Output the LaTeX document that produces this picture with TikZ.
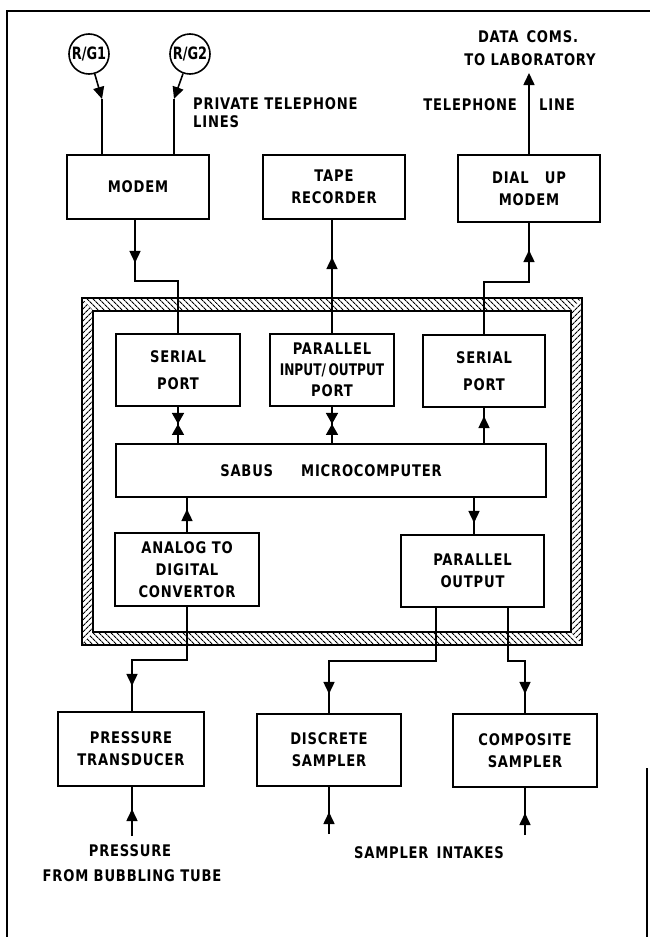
\documentclass[tikz,border=0pt]{standalone}
\usepackage{fontspec}
\setmainfont{DejaVu Sans}[FakeStretch=0.82,LetterSpace=5]
\newfontfamily\tightfont{DejaVu Sans}[FakeStretch=0.76]
\usetikzlibrary{arrows.meta,decorations.markings,patterns.meta}
\begin{document}
\begin{tikzpicture}[x=1pt,y=-1pt,
  blk/.style={draw,line width=1.9pt,align=center,inner sep=0pt,font=\fontsize{16}{22}\selectfont\bfseries},
  lbl/.style={inner sep=0pt,font=\fontsize{16}{20}\selectfont\bfseries},
  rg/.style={draw,circle,line width=1.6pt,minimum size=40pt,inner sep=0pt,font=\fontsize{17}{17}\selectfont\tightfont\bfseries},
  conn/.style={line width=1.6pt},
  tip/.style={-{Triangle[length=12pt,width=11pt]}},
  ah/.style={postaction={decorate},decoration={markings,mark=at position #1 with {\arrow{Triangle[length=12pt,width=11pt]}}}},
  hg/.style={postaction={decorate},decoration={markings,
     mark=at position #1 with {\arrow{Triangle[length=11pt,width=12pt]}},
     mark=at position #1 with {\arrowreversed{Triangle[length=11pt,width=12pt]}}}},
  hatchH/.style={pattern={Lines[angle=-45,distance=4pt,line width=1.1pt]}},
  hatchV/.style={pattern={Lines[angle=45,distance=4pt,line width=1.1pt]}}
]
\useasboundingbox (0,0) rectangle (650,937);
% outer frame
\draw[line width=1.5pt] (7,937) -- (7,11) -- (650,11);
\draw[line width=1.2pt] (647,768) -- (647,937);

% hatched frame
\fill[hatchH] (82,298) -- (582,298) -- (571,311) -- (93,311) -- cycle;
\fill[hatchH] (82,645) -- (582,645) -- (571,632) -- (93,632) -- cycle;
\fill[hatchV] (82,298) -- (93,311) -- (93,632) -- (82,645) -- cycle;
\fill[hatchV] (582,298) -- (571,311) -- (571,632) -- (582,645) -- cycle;
\draw[line width=1.8pt] (82,298) rectangle (582,645);
\draw[line width=1.8pt] (93,311) rectangle (571,632);

% nodes
\node[rg] (rg1) at (89,54) {R/G1};
\node[rg] (rg2) at (190,54) {R/G2};
\coordinate (k1) at (102,99);
\coordinate (k2) at (174,99);
\node[lbl,anchor=west] (ptl1) at (193,104) {PRIVATE TELEPHONE};
\node[lbl,anchor=west] (ptl2) at (193,122) {LINES};
\node[lbl] (dc1) at (528,37) {DATA\enspace COMS.};
\node[lbl] (dc2) at (530,60) {TO LABORATORY};
\coordinate (dct) at (529,73);
\node[lbl,anchor=east] (tel) at (517,105) {TELEPHONE};
\node[lbl,anchor=west] (tline) at (539,105) {LINE};

\node[blk,minimum width=142pt,minimum height=64pt] (modem) at (138,187) {MODEM};
\node[blk,minimum width=142pt,minimum height=64pt] (tape) at (334,187) {TAPE\\RECORDER};
\node[blk,minimum width=142pt,minimum height=67pt] (dial) at (529,188.5) {DIAL\quad UP\\MODEM};

\node[blk,minimum width=124pt,minimum height=72pt] (sp1) at (178,370) {SERIAL\\[5pt]PORT};
\node[blk,minimum width=124pt,minimum height=72pt,font=\fontsize{16}{21}\selectfont\bfseries] (pio) at (332,370) {PARALLEL\\{\tightfont\bfseries INPUT/\,OUTPUT}\\PORT};
\node[blk,minimum width=122pt,minimum height=72pt] (sp2) at (484,371) {SERIAL\\[5pt]PORT};
\node[blk,minimum width=430pt,minimum height=53pt] (sabus) at (331,470.5) {SABUS\hspace{28pt}MICROCOMPUTER};
\node[blk,minimum width=144pt,minimum height=73pt] (adc) at (187,569.5) {ANALOG TO\\DIGITAL\\CONVERTOR};
\node[blk,minimum width=143pt,minimum height=72pt] (pout) at (472.5,571) {PARALLEL\\OUTPUT};

\node[blk,minimum width=146pt,minimum height=74pt] (pt) at (131,749) {PRESSURE\\TRANSDUCER};
\node[blk,minimum width=144pt,minimum height=72pt] (ds) at (329,750) {DISCRETE\\SAMPLER};
\node[blk,minimum width=144pt,minimum height=73pt] (cs) at (525,750.5) {COMPOSITE\\SAMPLER};

\node[lbl] (pr1) at (130,851) {PRESSURE};
\node[lbl] (pr2) at (132,876) {FROM BUBBLING TUBE};
\node[lbl] (si) at (429,853) {SAMPLER\enspace INTAKES};
\coordinate (pin) at (132,836);
\coordinate (din) at (329,834);
\coordinate (cin) at (525,835);

% connectors
\draw[conn,tip] (rg1) -- (k1);
\draw[conn] (k1) -- (k1 |- modem.north);
\draw[conn,tip] (rg2) -- (k2);
\draw[conn] (k2) -- (k2 |- modem.north);
\draw[conn,tip] (dial.north) -- (dct);

\coordinate (m1) at (135,281);
\draw[conn,ah=43pt] (m1 |- modem.south) -- (m1) -| (sp1.north);
\coordinate (m2) at (529,282);
\draw[conn,ah=129pt] (sp2.north) |- (m2) -- (m2 |- dial.south);
\draw[conn,ah=76pt] (pio.north) -- (pio.north |- tape.south);

\draw[conn,hg=17pt] (sp1.south) -- (sp1.south |- sabus.north);
\draw[conn,hg=17pt] (pio.south) -- (pio.south |- sabus.north);
\draw[conn,ah=27pt] (sp2.south |- sabus.north) -- (sp2.south);

\draw[conn,ah=23pt] (adc.north) -- (adc.north |- sabus.south);
\coordinate (m6) at (474,500);
\draw[conn,ah=25pt] (m6 |- sabus.south) -- (m6 |- pout.north);

\coordinate (m3) at (132,660);
\draw[conn,ah=134pt] (adc.south) |- (m3) -- (m3 |- pt.north);
\coordinate (m4) at (436,661);
\draw[conn,ah=193pt] (m4 |- pout.south) -- (m4) -| (ds.north);
\coordinate (m5) at (508,661);
\draw[conn,ah=103pt] (m5 |- pout.south) -- (m5) -| (cs.north);

\draw[conn,ah=27pt] (pin) -- (pin |- pt.south);
\draw[conn,ah=22pt] (din) -- (din |- ds.south);
\draw[conn,ah=22pt] (cin) -- (cin |- cs.south);
\end{tikzpicture}
\end{document}
